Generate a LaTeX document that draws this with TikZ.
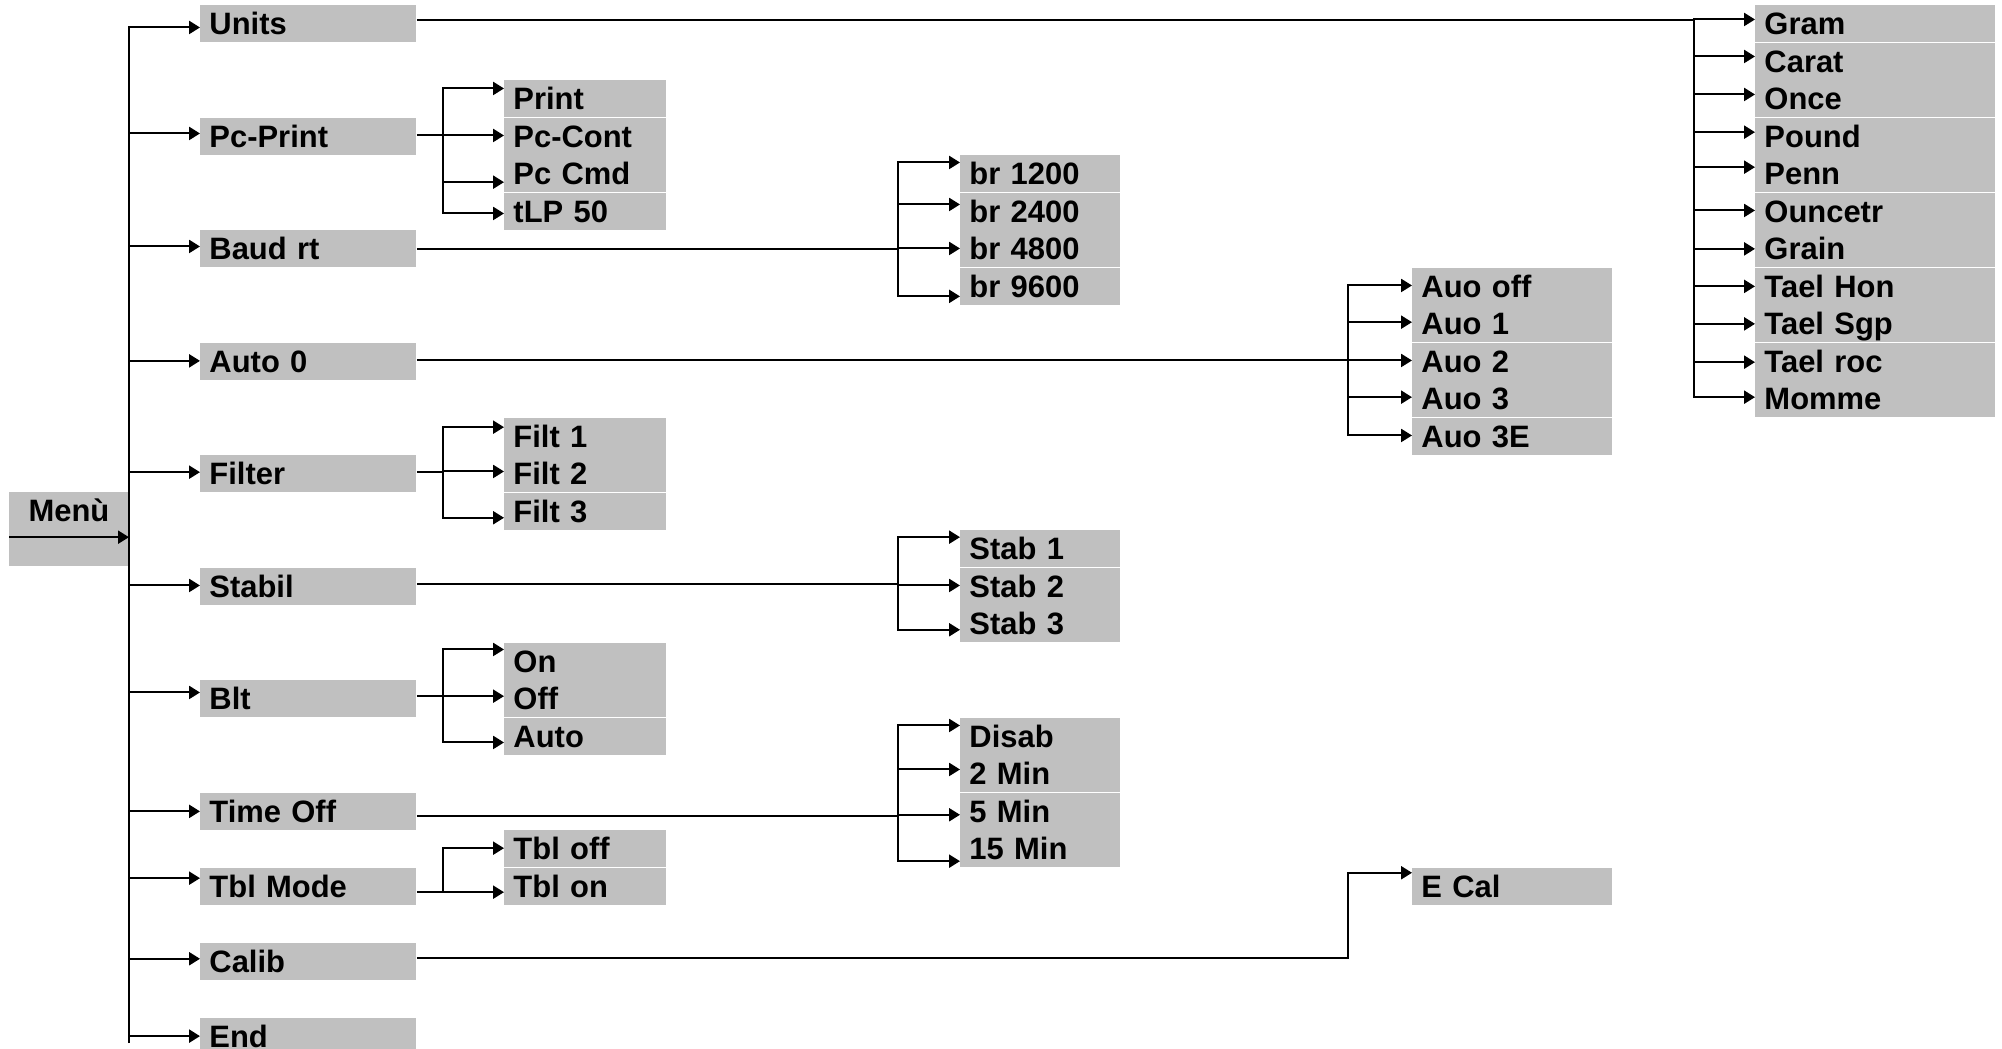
\documentclass[tikz,border=0pt]{standalone}
\usepackage{fontspec}
\setmainfont{Liberation Sans}
\usetikzlibrary{arrows.meta}
\definecolor{boxgray}{RGB}{192,192,192}
\begin{document}
\begin{tikzpicture}[x=0.015cm,y=-0.015cm,
  every node/.style={font=\fontsize{13.2pt}{15pt}\selectfont\bfseries},
  bx/.style={fill=boxgray, anchor=north west, inner xsep=0.135cm, inner ysep=0pt,
             minimum height=0.552cm, text height=9.45pt, text depth=0pt, align=left},
  lone/.style={bx, text width=2.97cm},
  ltwo/.style={bx, text width=2.16cm},
  lthree/.style={bx, text width=2.13cm},
  lfour/.style={bx, text width=2.73cm},
  lfive/.style={bx, text width=3.33cm},
  ln/.style={line width=0.85pt},
  arr/.style={ln, -{Triangle[length=4.6pt,width=5.5pt]}},
  dn/.style={yshift={-(#1)*0.015cm}}
]
\useasboundingbox (0,0) rectangle (2002,1049);

% root
\node[fill=boxgray, anchor=north west, minimum width=1.785cm, minimum height=1.11cm,
      inner sep=0pt, text height=0.435cm, text depth=0.675cm] (menu) at (9,492) {Menù};

% level 1
\node[lone] (units)   at (200,5)      {Units};
\node[lone] (pcprint) at (200,117.5)  {Pc-Print};
\node[lone] (baud)    at (200,230)    {Baud rt};
\node[lone] (auto0)   at (200,342.5)  {Auto 0};
\node[lone] (filter)  at (200,455)    {Filter};
\node[lone] (stabil)  at (200,567.5)  {Stabil};
\node[lone] (blt)     at (200,680)    {Blt};
\node[lone] (timeoff) at (200,792.5)  {Time Off};
\node[lone] (tblmode) at (200,867.5)  {Tbl Mode};
\node[lone] (calib)   at (200,942.5)  {Calib};
\node[lone, minimum height=0.4725cm, text height=0.4125cm] (endn) at (200,1017.5) {End};

% level 2
\node[ltwo] (print)  at (504,80)    {Print};
\node[ltwo] (pccont) at (504,117.5) {Pc-Cont};
\node[ltwo] (pccmd)  at (504,155)   {Pc Cmd};
\node[ltwo] (tlp)    at (504,192.5) {tLP 50};
\node[ltwo] (filta)  at (504,417.5) {Filt 1};
\node[ltwo] (filtb)  at (504,455)   {Filt 2};
\node[ltwo] (filtc)  at (504,492.5) {Filt 3};
\node[ltwo] (on)     at (504,642.5) {On};
\node[ltwo] (off)    at (504,680)   {Off};
\node[ltwo] (autob)  at (504,717.5) {Auto};
\node[ltwo] (tbloff) at (504,830)   {Tbl off};
\node[ltwo] (tblon)  at (504,867.5) {Tbl on};

% level 3
\node[lthree] (bra)   at (960,155)   {br 1200};
\node[lthree] (brb)   at (960,192.5) {br 2400};
\node[lthree] (brc)   at (960,230)   {br 4800};
\node[lthree] (brd)   at (960,267.5) {br 9600};
\node[lthree] (staba) at (960,530)   {Stab 1};
\node[lthree] (stabb) at (960,567.5) {Stab 2};
\node[lthree] (stabc) at (960,605)   {Stab 3};
\node[lthree] (disab) at (960,717.5) {Disab};
\node[lthree] (mina)  at (960,755)   {2 Min};
\node[lthree] (minb)  at (960,792.5) {5 Min};
\node[lthree] (minc)  at (960,830)   {15 Min};

% level 4
\node[lfour] (auooff) at (1412,267.5) {Auo off};
\node[lfour] (auoa)   at (1412,305)   {Auo 1};
\node[lfour] (auob)   at (1412,342.5) {Auo 2};
\node[lfour] (auoc)   at (1412,380)   {Auo 3};
\node[lfour] (auoe)   at (1412,417.5) {Auo 3E};
\node[lfour] (ecal)   at (1412,867.5) {E Cal};

% level 5
\node[lfive] (gram)    at (1755,5)     {Gram};
\node[lfive] (carat)   at (1755,42.5)  {Carat};
\node[lfive] (once)    at (1755,80)    {Once};
\node[lfive] (pound)   at (1755,117.5) {Pound};
\node[lfive] (penn)    at (1755,155)   {Penn};
\node[lfive] (ouncetr) at (1755,192.5) {Ouncetr};
\node[lfive] (grain)   at (1755,230)   {Grain};
\node[lfive] (taelhon) at (1755,267.5) {Tael Hon};
\node[lfive] (taelsgp) at (1755,305)   {Tael Sgp};
\node[lfive] (taelroc) at (1755,342.5) {Tael roc};
\node[lfive] (momme)   at (1755,380)   {Momme};

% bus positions
\coordinate (mbot) at (129,1043);
\coordinate (btwo) at (443,0);
\coordinate (bthree) at (898,0);
\coordinate (bfour) at (1348,0);
\coordinate (bfive) at (1694,0);

% entry points (arrow ends)
\foreach \n/\d in {units/3.6, pcprint/-2.9, baud/-2.4, auto0/-0.5, filter/-1.7, stabil/-0.9,
  blt/-6.4, timeoff/0, tblmode/-8.2, calib/-2.6,
  print/-10.4, pccont/-0.9, pccmd/8.3, tlp/2.1,
  filta/-9.2, filtb/-2.4, filtc/6.4, on/-11.9, off/-2.7, autob/6.1, tbloff/-0.7, tblon/5.8,
  bra/-11.4, brb/-6.9, brc/-0.4, brd/10, staba/-11.7, stabb/-0.9, stabc/5.9,
  disab/-10.9, mina/-4.4, minb/3.4, minc/12.3,
  auooff/-0.9, auoa/-1.7, auob/-0.9, auoc/-1.7, auoe/-0.9, ecal/-13.6,
  gram/-4.4, carat/-4.9, once/-4.4, pound/-4.2, penn/-6.7, ouncetr/-0.9, grain/0,
  taelhon/0, taelsgp/0, taelroc/0.8, momme/-1.7}
  {\coordinate (i\n) at ([dn=\d]\n.west);}
\coordinate (iendn) at ([dn=2.4]endn.west);

% exit points
\foreach \n/\d in {units/-4.1, pcprint/-1.2, baud/0, auto0/-0.9, filter/-1.7, stabil/-1.9,
  blt/-2.7, timeoff/4.6, tblmode/5.8, calib/-2.9}
  {\coordinate (o\n) at ([dn=\d]\n.east);}

% main bus
\draw[arr] (mbot) |- (iunits);
\foreach \n in {pcprint, baud, auto0, filter, stabil, blt, timeoff, tblmode, calib, endn}
  {\draw[arr] (i\n -| mbot) -- (i\n);}
\draw[arr] ([dn=7.7]menu.west) -- ([dn=7.7]menu.east);

% Units
\draw[arr] (ounits) -- (ounits -| bfive) |- (igram);
\draw[arr] (ounits -| bfive) |- (imomme);
\foreach \c in {carat, once, pound, penn, ouncetr, grain, taelhon, taelsgp, taelroc}
  {\draw[arr] (i\c -| bfive) -- (i\c);}

% Pc-Print
\draw[arr] (opcprint) -- (opcprint -| btwo) |- (iprint);
\draw[arr] (opcprint -| btwo) |- (itlp);
\foreach \c in {pccont, pccmd} {\draw[arr] (i\c -| btwo) -- (i\c);}

% Baud rt
\draw[arr] (obaud) -- (obaud -| bthree) |- (ibra);
\draw[arr] (obaud -| bthree) |- (ibrd);
\foreach \c in {brb, brc} {\draw[arr] (i\c -| bthree) -- (i\c);}

% Auto 0
\draw[arr] (oauto0) -- (oauto0 -| bfour) |- (iauooff);
\draw[arr] (oauto0 -| bfour) |- (iauoe);
\foreach \c in {auoa, auob, auoc} {\draw[arr] (i\c -| bfour) -- (i\c);}

% Filter
\draw[arr] (ofilter) -- (ofilter -| btwo) |- (ifilta);
\draw[arr] (ofilter -| btwo) |- (ifiltc);
\draw[arr] (ifiltb -| btwo) -- (ifiltb);

% Stabil
\draw[arr] (ostabil) -- (ostabil -| bthree) |- (istaba);
\draw[arr] (ostabil -| bthree) |- (istabc);
\draw[arr] (istabb -| bthree) -- (istabb);

% Blt
\draw[arr] (oblt) -- (oblt -| btwo) |- (ion);
\draw[arr] (oblt -| btwo) |- (iautob);
\draw[arr] (ioff -| btwo) -- (ioff);

% Time Off
\draw[arr] (otimeoff) -- (otimeoff -| bthree) |- (idisab);
\draw[arr] (otimeoff -| bthree) |- (iminc);
\foreach \c in {mina, minb} {\draw[arr] (i\c -| bthree) -- (i\c);}

% Tbl Mode
\draw[arr] (otblmode) -- (otblmode -| btwo) |- (itbloff);
\draw[arr] (otblmode -| btwo) |- (itblon);

% Calib
\draw[arr] (ocalib) -- (ocalib -| bfour) |- (iecal);
\end{tikzpicture}
\end{document}
